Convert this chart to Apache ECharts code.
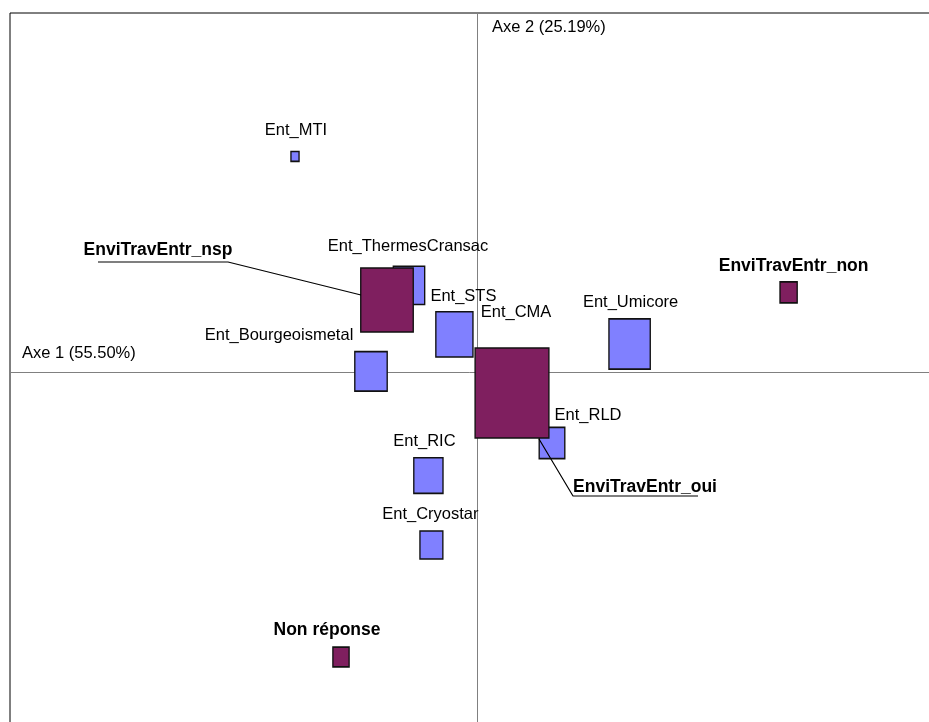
<!DOCTYPE html>
<html>
<head>
<meta charset="utf-8">
<title>AFC EnviTravEntr</title>
<script src="https://cdn.jsdelivr.net/npm/echarts@6/dist/echarts.min.js"></script>
<style>
  html, body { margin: 0; padding: 0; background: #fff; }
  #main { width: 929px; height: 722px; }
</style>
</head>
<body>
<div id="main"></div>
<script>
// axes factoriels
const axe1Name = 'Axe 1 (55.50%)';
const axe2Name = 'Axe 2 (25.19%)';

// entreprises (carrés bleus) : coordonnées et poids
const entNames = ['Ent_MTI', 'Ent_ThermesCransac', 'Ent_Bourgeoismetal', 'Ent_STS', 'Ent_CMA',
  'Ent_Umicore', 'Ent_RLD', 'Ent_RIC', 'Ent_Cryostar'];
const entX = [-0.91, -0.34, -0.53, -0.113, 0.165, 0.763, 0.375, -0.243, -0.228];
const entY = [1.078, 0.433, 0.003, 0.188, -0.09, 0.14, -0.355, -0.518, -0.865];
const entPoids = [1, 15, 16, 21, 20, 26, 10, 13, 8];

// modalités de EnviTravEntr (carrés violets)
const modNames = ['EnviTravEntr_nsp', 'EnviTravEntr_oui', 'EnviTravEntr_non', 'Non réponse'];
const modX = [-0.45, 0.175, 1.558, -0.68];
const modY = [0.36, -0.105, 0.398, -1.425];
const modPoids = [42, 83, 4.5, 4];

// traits de rappel (soulignement + trait vers le carré)
const leaderNsp = [[-1.895, 0.55], [-1.245, 0.55], [-0.58, 0.385]];
const leaderOui = [[0.31, -0.335], [0.48, -0.62], [1.105, -0.62]];

// décalage des étiquettes par rapport au centre du carré (px)
const labelOffsets = {
  'Ent_MTI': [1, -26],
  'Ent_ThermesCransac': [-1, -39],
  'Ent_Bourgeoismetal': [-92, -36],
  'Ent_STS': [9, -38],
  'Ent_CMA': [6, -78],
  'Ent_Umicore': [1, -42],
  'Ent_RLD': [36, -28],
  'Ent_RIC': [-4, -34],
  'Ent_Cryostar': [-1, -31],
  'EnviTravEntr_nsp': [-229, -50],
  'EnviTravEntr_oui': [133, 94],
  'EnviTravEntr_non': [5, -26],
  'Non réponse': [-14, -27]
};

function buildData(names, xs, ys, poids) {
  return names.map(function (n, i) {
    return {
      name: n,
      value: [xs[i], ys[i], poids[i]],
      label: { offset: labelOffsets[n] }
    };
  });
}

// taille des carrés proportionnelle à la racine du poids
function squareSize(v) {
  const w = Math.sqrt(v[2]) * 8.1;
  return [w, w * 1.22];
}

const chart = echarts.init(document.getElementById('main'));

const option = {
  animation: false,
  grid: {
    left: 10, top: 13, right: -2, bottom: -3,
    outerBoundsMode: 'none', containLabel: false,
    show: true, borderColor: '#000', borderWidth: 1, backgroundColor: '#fff'
  },
  xAxis: {
    type: 'value', min: -2.335, max: 2.27,
    name: axe1Name, nameLocation: 'start', nameGap: -12,
    nameTextStyle: { fontFamily: 'Liberation Sans', fontSize: 16.5, color: '#000', align: 'left', verticalAlign: 'bottom', padding: [0, 0, 10, 0] },
    axisLine: { onZero: true, lineStyle: { color: '#808080', width: 1 } },
    axisTick: { show: false }, axisLabel: { show: false }, splitLine: { show: false }
  },
  yAxis: {
    type: 'value', min: -1.765, max: 1.795,
    name: axe2Name, nameLocation: 'end', nameGap: -6,
    nameTextStyle: { fontFamily: 'Liberation Sans', fontSize: 16.5, color: '#000', align: 'left', verticalAlign: 'top', padding: [0, 0, 0, 15] },
    axisLine: { onZero: true, lineStyle: { color: '#808080', width: 1 } },
    axisTick: { show: false }, axisLabel: { show: false }, splitLine: { show: false }
  },
  series: [
    {
      name: 'Entreprises',
      type: 'scatter',
      symbol: 'rect',
      symbolSize: squareSize,
      z: 2,
      itemStyle: { color: '#8080FF', borderColor: '#111', borderWidth: 1.5, opacity: 1 },
      label: {
        show: true, position: 'inside', formatter: '{b}',
        fontFamily: 'Liberation Sans', fontSize: 16.5, color: '#000'
      },
      emphasis: { disabled: true },
      data: buildData(entNames, entX, entY, entPoids)
    },
    {
      name: 'EnviTravEntr',
      type: 'scatter',
      symbol: 'rect',
      symbolSize: squareSize,
      z: 3,
      itemStyle: { color: '#7F1F5F', borderColor: '#111', borderWidth: 1.5, opacity: 1 },
      label: {
        show: true, position: 'inside', formatter: '{b}',
        fontFamily: 'Liberation Sans', fontSize: 17.5, fontWeight: 'bold', color: '#000'
      },
      emphasis: { disabled: true },
      data: buildData(modNames, modX, modY, modPoids)
    },
    {
      type: 'line', data: leaderNsp, z: 4, symbol: 'none', silent: true,
      lineStyle: { color: '#000', width: 1.2 }
    },
    {
      type: 'line', data: leaderOui, z: 4, symbol: 'none', silent: true,
      lineStyle: { color: '#000', width: 1.2 }
    }
  ]
};

chart.setOption(option);
</script>
</body>
</html>
